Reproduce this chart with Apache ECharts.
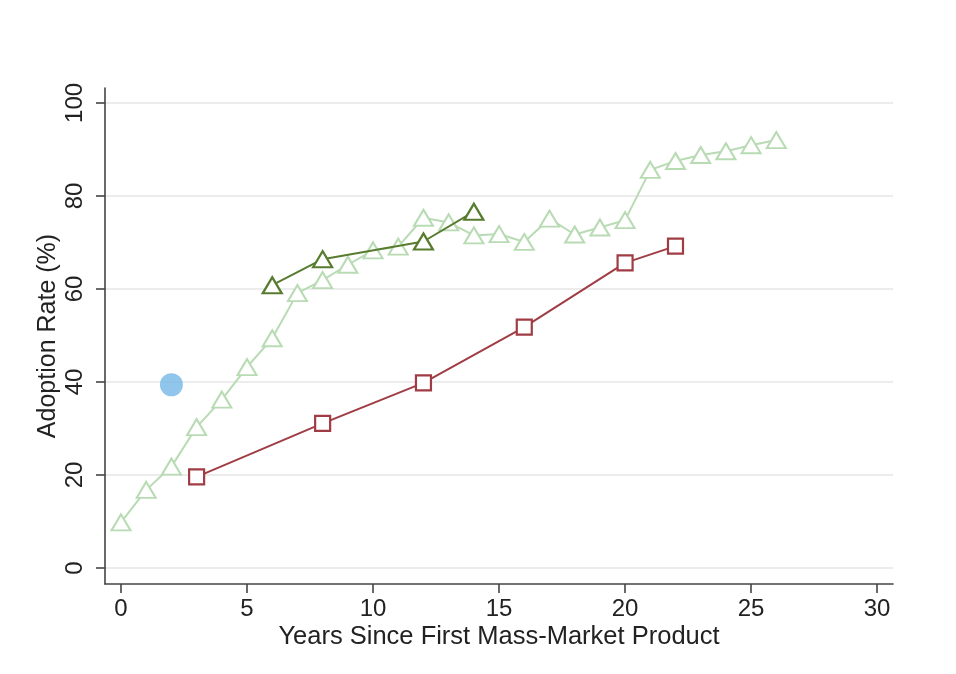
<!DOCTYPE html>
<html>
<head>
<meta charset="utf-8">
<script src="https://cdn.jsdelivr.net/npm/echarts@6/dist/echarts.min.js"></script>
<style>
html,body{margin:0;padding:0;background:#fff;}
#chart{width:956px;height:674px;}
</style>
</head>
<body>
<div id="chart"></div>
<script>
// ---- data ----
var lightYears = [0,1,2,3,4,5,6,7,8,9,10,11,12,13,14,15,16,17,18,19,20,21,22,23,24,25,26];
var lightValues = [9.8,16.8,21.8,30.3,36.2,43.2,49.4,59.1,61.9,65.2,68.3,69.1,75.3,74.3,71.5,71.8,70.1,75.1,71.7,73.2,74.8,85.6,87.5,88.8,89.6,90.9,92.0];
var darkYears = [6,8,12,14];
var darkValues = [60.8,66.4,70.2,76.6];
var redYears = [3,8,12,16,20,22];
var redValues = [19.6,31.1,39.8,51.8,65.6,69.2];
var blueYears = [2];
var blueValues = [39.4];
var xTicks = [0,5,10,15,20,25,30];
var yTicks = [0,20,40,60,80,100];
var xTitle = 'Years Since First Mass-Market Product';
var yTitle = 'Adoption Rate (%)';

function pairs(xs, ys){ return xs.map(function(x,i){ return [x, ys[i]]; }); }

var FONT = '"Liberation Sans", Arial, sans-serif';
var axisColor = '#444';

var chart = echarts.init(document.getElementById('chart'));
chart.setOption({
  animation:false,
  backgroundColor:'#ffffff',
  grid:{left:105, right:63, top:88, bottom:90, containLabel:false},
  xAxis:{
    type:'value', min:-0.635, max:30.63,
    name:xTitle, nameLocation:'middle', nameGap:40, nameMoveOverlap:false,
    nameTextStyle:{fontFamily:FONT, fontSize:25.5, color:'#222'},
    axisLine:{show:true, onZero:false, lineStyle:{color:axisColor, width:1.6}},
    axisTick:{show:true, customValues:xTicks, length:9, lineStyle:{color:axisColor, width:1.6}},
    axisLabel:{customValues:xTicks, margin:13, fontFamily:FONT, fontSize:24, color:'#222'},
    splitLine:{show:false}
  },
  yAxis:{
    type:'value', min:-3.44, max:103.2,
    name:yTitle, nameLocation:'middle', nameGap:44, nameRotate:90, nameMoveOverlap:false,
    nameTextStyle:{fontFamily:FONT, fontSize:25, color:'#222'},
    axisLine:{show:true, onZero:false, lineStyle:{color:axisColor, width:1.6}},
    axisTick:{show:true, customValues:yTicks, length:9, lineStyle:{color:axisColor, width:1.6}},
    axisLabel:{customValues:yTicks, rotate:90, margin:18, fontFamily:FONT, fontSize:24, color:'#222'},
    splitLine:{show:true, lineStyle:{color:'#e6e6e6', width:1.6}}
  },
  series:[
    {
      type:'line', data:pairs(lightYears, lightValues),
      symbol:'triangle', symbolSize:[19,16],
      lineStyle:{color:'#b8dbb4', width:2},
      itemStyle:{color:'#ffffff', borderColor:'#b8dbb4', borderWidth:2},
      z:2
    },
    {
      type:'line', data:pairs(darkYears, darkValues),
      symbol:'triangle', symbolSize:[19,16],
      lineStyle:{color:'#587c2f', width:2},
      itemStyle:{color:'#ffffff', borderColor:'#587c2f', borderWidth:2.2},
      z:3
    },
    {
      type:'line', data:pairs(redYears, redValues),
      symbol:'rect', symbolSize:15,
      lineStyle:{color:'#a03c44', width:2},
      itemStyle:{color:'#ffffff', borderColor:'#a03c44', borderWidth:2.2},
      z:4
    },
    {
      type:'scatter', data:pairs(blueYears, blueValues),
      symbol:'circle', symbolSize:23,
      itemStyle:{color:'#74b8e7'},
      z:5
    }
  ]
});
</script>
</body>
</html>
